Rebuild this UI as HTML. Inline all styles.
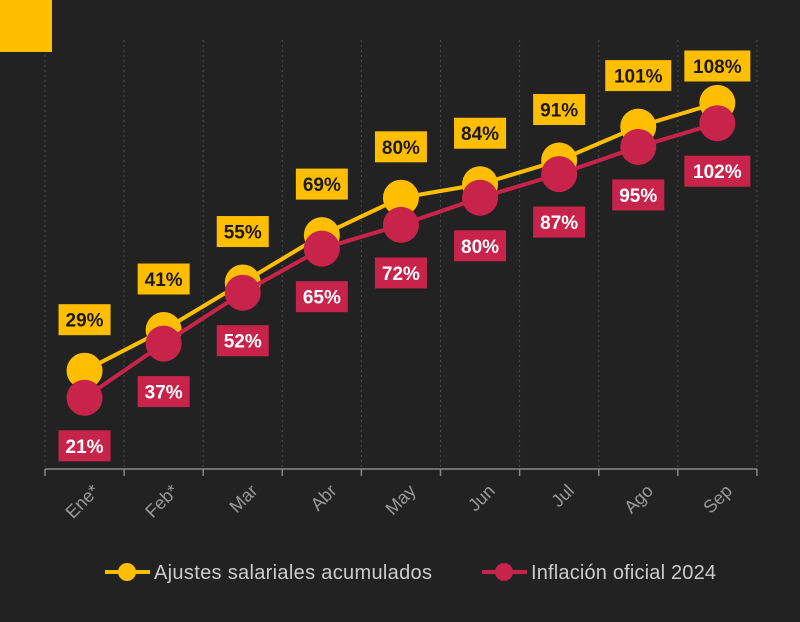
<!DOCTYPE html>
<html><head><meta charset="utf-8">
<style>
html,body{margin:0;padding:0;background:#222222;}
svg{display:block;font-family:"Liberation Sans",sans-serif;}
</style></head>
<body>
<svg id="chart" width="800" height="622">
<rect x="0" y="0" width="800" height="622" fill="#222222"/>
<g id="grid"></g>
<rect x="0" y="0" width="52" height="52" fill="#FFBE00"/>
<line x1="45" y1="469" x2="757" y2="469" stroke="#888" stroke-width="1.5"/>
<g id="series"></g>
<g id="xlabels"></g>
<g>
  <g>
    <line x1="105" y1="572" x2="150" y2="572" stroke="#FFBE00" stroke-width="4"/>
    <circle cx="127" cy="572" r="9" fill="#FFBE00"/>
    <text x="154" y="579" font-size="20" textLength="278" fill="#cccccc">Ajustes salariales acumulados</text>
  </g>
  <g>
    <line x1="482" y1="572" x2="527" y2="572" stroke="#C8234A" stroke-width="4"/>
    <circle cx="504" cy="572" r="9" fill="#C8234A"/>
    <text x="531" y="579" font-size="20" textLength="185" fill="#cccccc">Inflación oficial 2024</text>
  </g>
</g>
</svg>
<script>
const categories = ["Ene*","Feb*","Mar","Abr","May","Jun","Jul","Ago","Sep"];
const salaryValues = [29,41,55,69,80,84,91,101,108];
const inflationValues = [21,37,52,65,72,80,87,95,102];

const NS="http://www.w3.org/2000/svg";
const left=45, step=79.1, y0=469, k=3.39;
const xPos=i=>left+step*(i+0.5);
const yPos=v=>y0-v*k;
function mk(tag,attrs,parent){const e=document.createElementNS(NS,tag);for(const a in attrs)e.setAttribute(a,attrs[a]);parent.appendChild(e);return e;}
const grid=document.getElementById('grid');
for(let i=0;i<=categories.length;i++){
  const x=left+step*i;
  const l=mk('line',{x1:x,y1:40,x2:x,y2:469,stroke:'#4a4a4a','stroke-width':1,'stroke-dasharray':'2,3'},grid);
  
  
  const tk=mk('line',{x1:x,y1:469,x2:x,y2:476,stroke:'#888','stroke-width':1.5},grid);
  
  
}
const xl=document.getElementById('xlabels');
categories.forEach((c,i)=>{
  const x=xPos(i)+7, y=483;
  const t=mk('text',{x:x,y:y,'font-size':18,fill:'#9a9a9a','text-anchor':'end',transform:`rotate(-45 ${x} ${y})`,dy:'0.7em'},xl);
  t.textContent=c;
  
  
});
const sg=document.getElementById('series');
function drawSeries(vals,color,name){
  const g=mk('g',{},sg);
  
  
  const pts=vals.map((v,i)=>xPos(i)+','+yPos(v)).join(' ');
  const pl=mk('polyline',{points:pts,fill:'none',stroke:color,'stroke-width':4},g);
  
  
  vals.forEach((v,i)=>{
    const c=mk('circle',{cx:xPos(i),cy:yPos(v),r:18,fill:color},g);
    
    
  });
}
function drawLabels(vals,color,name,off,minY){
  const g=mk('g',{},sg);
  vals.forEach((v,i)=>{
    const txt=v+'%';
    const w=txt.length>3?66:52;
    const cx=xPos(i);
    let cy=yPos(v)+off;
    if(minY!==undefined && cy<minY) cy=minY;
    const r=mk('rect',{x:cx-w/2,y:cy-15.5,width:w,height:31,fill:color},g);
    
    
    const t=mk('text',{x:cx,y:cy+7,'font-size':19,'font-weight':'bold',fill:name==='salary'?'#1a1a1a':'#fff','text-anchor':'middle'},g);
    t.textContent=txt;
    
    
  });
}
drawSeries(salaryValues,'#FFBE00','salary');
drawSeries(inflationValues,'#C8234A','inflation');
drawLabels(salaryValues,'#FFBE00','salary',-51,66);
drawLabels(inflationValues,'#C8234A','inflation',48);
</script>
</body></html>
